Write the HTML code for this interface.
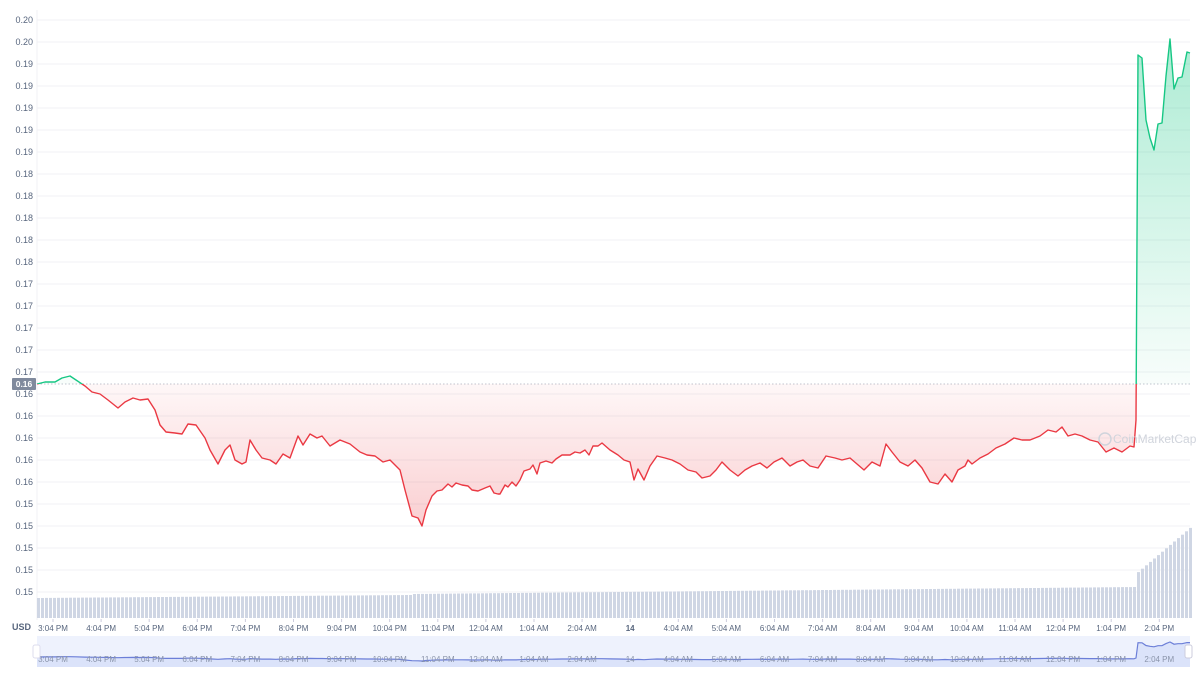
<!DOCTYPE html>
<html><head><meta charset="utf-8"><style>
html,body{margin:0;padding:0;background:#fff;}
svg{display:block;font-family:"Liberation Sans",sans-serif;}
</style></head><body>
<svg id="s" width="1200" height="675" viewBox="0 0 1200 675" xmlns="http://www.w3.org/2000/svg">
<defs>
<linearGradient id="gg" x1="0" y1="40" x2="0" y2="384" gradientUnits="userSpaceOnUse">
<stop offset="0" stop-color="#16c784" stop-opacity="0.35"/><stop offset="1" stop-color="#16c784" stop-opacity="0.03"/></linearGradient>
<linearGradient id="rg" x1="0" y1="384" x2="0" y2="530" gradientUnits="userSpaceOnUse">
<stop offset="0" stop-color="#ea3943" stop-opacity="0.04"/><stop offset="1" stop-color="#ea3943" stop-opacity="0.25"/></linearGradient>
<clipPath id="up"><rect x="0" y="0" width="1200" height="384"/></clipPath>
<clipPath id="dn"><rect x="0" y="384" width="1200" height="300"/></clipPath>
</defs>
<g id="grid"></g>
<g id="vol"></g>
<g id="price"></g>
<g id="xl"></g>
</svg>
<script>
(function(){
var s=document.getElementById('s'),NS='http://www.w3.org/2000/svg';
function el(t,a,p){var e=document.createElementNS(NS,t);for(var k in a)e.setAttribute(k,a[k]);(p||s).appendChild(e);return e;}
var g=document.getElementById('grid');
var labs=['0.20','0.20','0.19','0.19','0.19','0.19','0.19','0.18','0.18','0.18','0.18','0.18','0.17','0.17','0.17','0.17','0.17','0.16','0.16','0.16','0.16','0.16','0.15','0.15','0.15','0.15','0.15'];
for(var i=0;i<labs.length;i++){var y=20+22*i;
el('line',{x1:37,x2:1190,y1:y,y2:y,stroke:'#f0f1f4','stroke-width':1},g);
var t=el('text',{x:33,y:y+3,'text-anchor':'end','font-size':9,fill:'#58667e'},g);t.textContent=labs[i];}
el('line',{x1:37,x2:37,y1:10,y2:620,stroke:'#f0f1f4'},g);
el('line',{x1:37,x2:1190,y1:384,y2:384,stroke:'#c0c5cf','stroke-dasharray':'1.5 2'},g);
el('rect',{x:12,y:378,width:24,height:12,fill:'#808a9d',rx:1},g);
var bt=el('text',{x:24,y:387,'text-anchor':'middle','font-size':8.5,fill:'#fff','font-weight':'bold'},g);bt.textContent='0.16';
var v=document.getElementById('vol');
for(var x=37;x<1190;x+=4){var tp;
if(x<410)tp=598-(x-37)/373*3; else if(x<1136)tp=594-(x-410)/726*7; else tp=573-(x-1136)/54*46;
el('rect',{x:x,y:tp.toFixed(1),width:3,height:(618-tp).toFixed(1),fill:'#cfd6e4'},v);}
var P=[[37,384],[45,382],[55,382],[62,378],[70,376],[76,380],[85,386],[92,392],[100,394],[108,400],[118,408],[125,402],[133,398],[140,400],[148,399],[155,410],[160,425],[166,432],[175,433],[182,434],[188,424],[196,425],[205,438],[210,450],[218,464],[225,450],[230,445],[235,460],[242,464],[246,462],[250,440],[256,450],[262,458],[270,460],[276,464],[283,454],[290,458],[298,436],[303,445],[310,434],[317,438],[322,436],[330,446],[340,440],[350,444],[360,452],[367,455],[375,456],[383,462],[390,460],[400,470],[405,490],[412,516],[418,518],[422,526],[426,510],[432,496],[437,491],[442,490],[448,484],[452,487],[456,483],[462,485],[468,486],[472,490],[478,491],[485,488],[490,486],[494,493],[498,494],[500,494],[505,485],[508,487],[512,482],[516,486],[520,480],[524,471],[530,469],[533,465],[537,474],[540,463],[546,461],[552,463],[556,459],[562,455],[570,455],[575,452],[580,453],[585,450],[589,455],[593,446],[598,446],[602,443],[610,450],[618,455],[624,460],[630,462],[634,480],[638,469],[644,480],[650,466],[657,456],[665,458],[672,460],[680,464],[688,470],[696,472],[702,478],[710,476],[716,470],[722,462],[730,470],[738,476],[745,470],[752,466],[760,463],[767,468],[774,462],[782,458],[790,466],[797,462],[803,460],[810,466],[818,468],[826,456],[835,458],[842,460],[850,458],[857,464],[864,470],[872,462],[880,466],[886,444],[892,452],[900,462],[908,466],[915,460],[922,468],[930,482],[938,484],[945,474],[952,482],[958,470],[965,466],[968,460],[972,464],[980,458],[988,454],[996,448],[1005,444],[1014,438],[1022,440],[1030,440],[1040,436],[1048,430],[1056,432],[1062,427],[1068,436],[1075,434],[1082,436],[1090,440],[1098,442],[1106,452],[1114,448],[1122,452],[1130,446],[1134,447],[1136,420],[1138,55],[1142,58],[1146,120],[1150,138],[1154,150],[1158,124],[1162,123],[1166,76],[1170,39],[1174,89],[1178,78],[1182,77],[1187,52],[1190,53]];
var d='M'+P.map(function(p){return p[0]+','+p[1]}).join('L');
var pr=document.getElementById('price');
var area=d+'L1190,384L37,384Z';
el('path',{d:area,fill:'url(#gg)','clip-path':'url(#up)'},pr);
el('path',{d:area,fill:'url(#rg)','clip-path':'url(#dn)'},pr);
el('path',{d:d,fill:'none',stroke:'#16c784','stroke-width':1.4,'stroke-linejoin':'round','clip-path':'url(#up)'},pr);
el('path',{d:d,fill:'none',stroke:'#ea3943','stroke-width':1.4,'stroke-linejoin':'round','clip-path':'url(#dn)'},pr);
var wm=el('text',{x:1113,y:443,'font-size':12,fill:'#d0d4dc'},pr);wm.textContent='CoinMarketCap';
el('circle',{cx:1105,cy:439,r:6,fill:'none',stroke:'#d0d4dc','stroke-width':1.5},pr);
var xl=document.getElementById('xl');
var L=['3:04 PM','4:04 PM','5:04 PM','6:04 PM','7:04 PM','8:04 PM','9:04 PM','10:04 PM','11:04 PM','12:04 AM','1:04 AM','2:04 AM','14','4:04 AM','5:04 AM','6:04 AM','7:04 AM','8:04 AM','9:04 AM','10:04 AM','11:04 AM','12:04 PM','1:04 PM','2:04 PM'];
var u=el('text',{x:12,y:630,'font-size':9,fill:'#58667e','font-weight':'bold'},xl);u.textContent='USD';
el('rect',{x:37,y:636,width:1153,height:31,fill:'#eef2fd'},xl);
var nd='M37,657';for(var i=0;i<P.length;i++){var p=P[i];var ny=p[1]<384?657-(384-p[1])/345*15:657+(p[1]-384)/142*4;nd+='L'+p[0]+','+ny.toFixed(1);}
el('path',{d:nd+'L1190,667L37,667Z',fill:'#dbe3fa'},xl);
el('path',{d:nd,fill:'none',stroke:'#6c7fd8','stroke-width':1.2},xl);
for(var i=0;i<L.length;i++){var x=53+48.1*i;
el('line',{x1:x,x2:x,y1:619,y2:622,stroke:'#ccd'},xl);
var t=el('text',{x:x,y:631,'text-anchor':'middle','font-size':8,fill:'#58667e','font-weight':L[i]=='14'?'bold':'normal'},xl);t.textContent=L[i];
var t2=el('text',{x:x,y:662,'text-anchor':'middle','font-size':8,fill:'#8a94aa'},xl);t2.textContent=L[i];}
el('rect',{x:1185,y:645,width:7,height:13,fill:'#fff',stroke:'#ccd',rx:2},xl);
el('rect',{x:33,y:645,width:7,height:13,fill:'#fff',stroke:'#dde',rx:2},xl);
})();
</script>
</body></html>
